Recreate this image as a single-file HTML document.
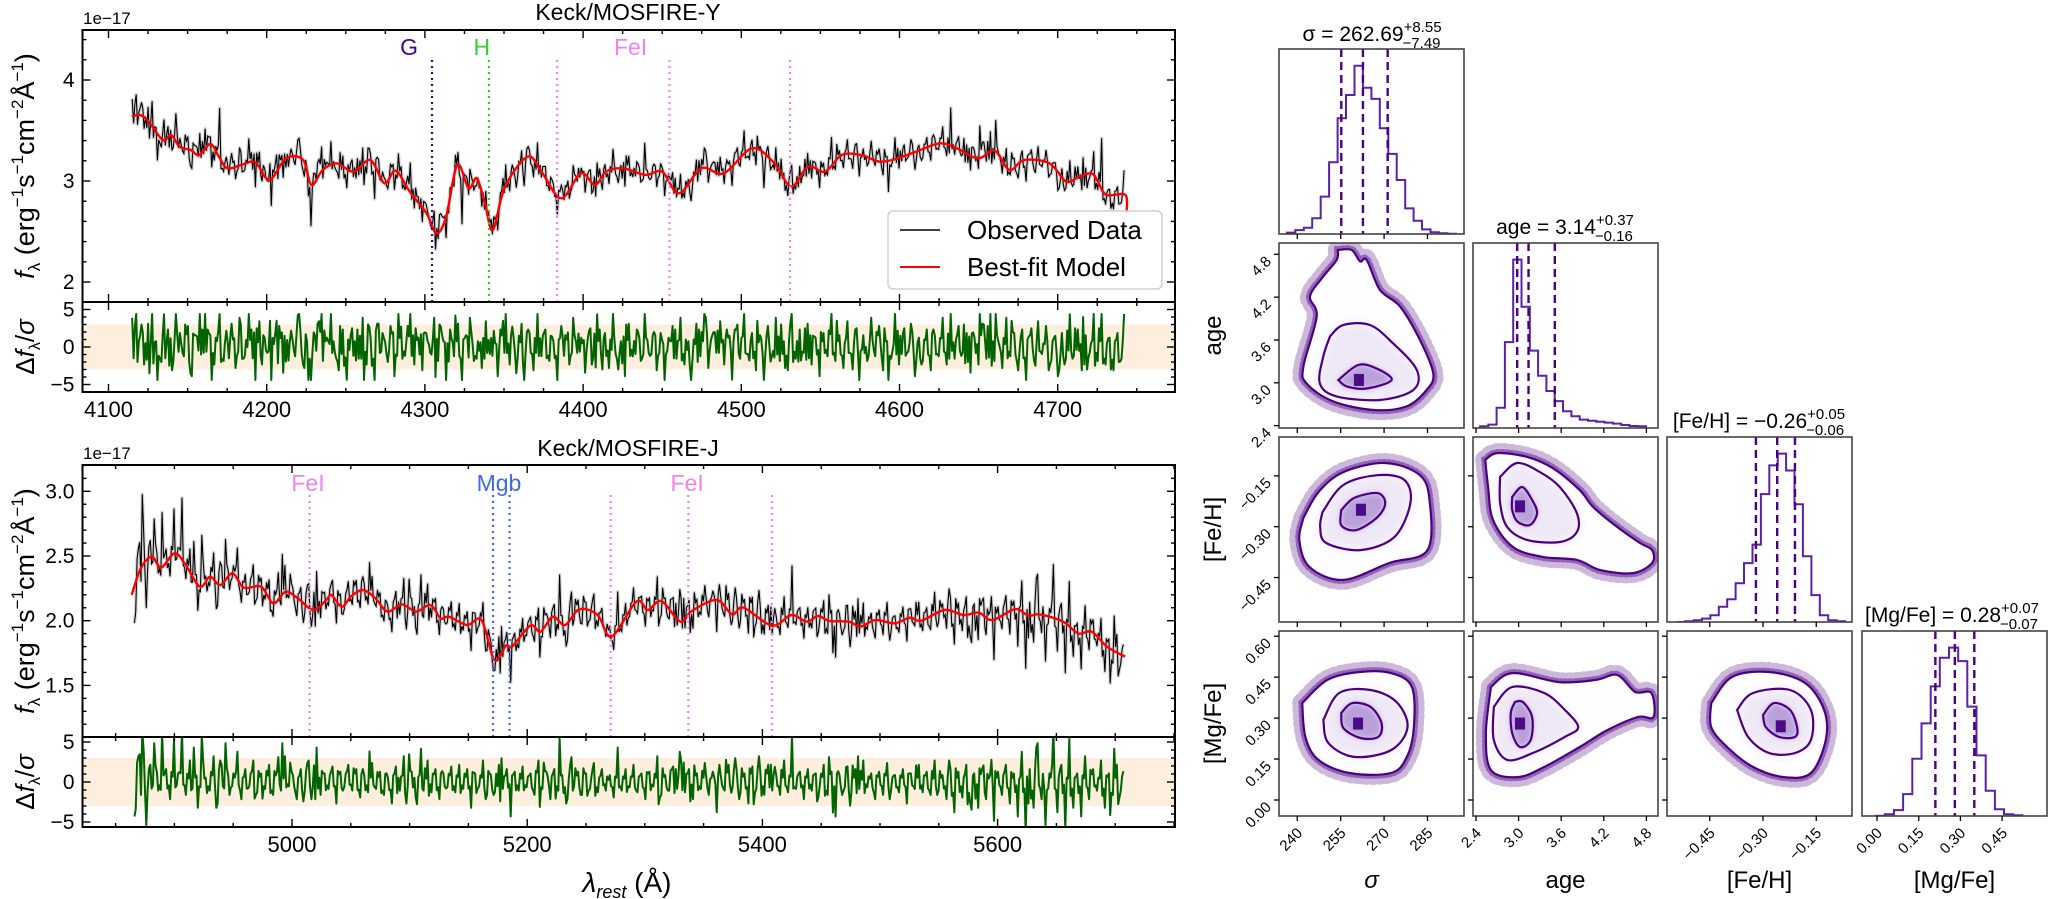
<!DOCTYPE html>
<html><head><meta charset="utf-8">
<style>
body{margin:0;background:#fff}
svg{display:block;font-family:"Liberation Sans","DejaVu Sans",sans-serif}
</style></head>
<body>
<svg id="fig" width="2050" height="899" viewBox="0 0 2050 899">
<defs>
<clipPath id="cTopS"><rect x="82.5" y="30" width="1092.5" height="272"/></clipPath>
<clipPath id="cTopR"><rect x="82.5" y="302" width="1092.5" height="90"/></clipPath>
<clipPath id="cBotS"><rect x="82.5" y="465" width="1092.5" height="272"/></clipPath>
<clipPath id="cBotR"><rect x="82.5" y="737" width="1092.5" height="90"/></clipPath>
<filter id="blur" x="-50%" y="-50%" width="200%" height="200%"><feGaussianBlur stdDeviation="5"/></filter>
<filter id="blur2" x="-50%" y="-50%" width="200%" height="200%"><feGaussianBlur stdDeviation="3"/></filter>
</defs>
</svg>
<script>
// ===== Spectrum data =====
const topModelWave=[4114.8,4120.1,4125.4,4134.3,4139.6,4145.0,4152.0,4157.3,4164.4,4169.8,4175.1,4183.9,4192.8,4201.7,4212.3,4223.0,4228.3,4235.4,4244.2,4254.9,4265.5,4274.4,4281.5,4290.4,4301.0,4307.4,4313.4,4320.5,4327.6,4332.9,4338.2,4342.9,4350.7,4364.9,4373.7,4386.1,4398.6,4407.4,4414.5,4425.2,4439.4,4450.0,4460.6,4474.8,4489.0,4506.8,4521.0,4531.6,4542.2,4552.9,4563.5,4576.0,4587.6,4600,4612,4625.6,4636.2,4649.5,4660.2,4669.5,4678.8,4694.8,4705.4,4713.4,4721.4,4725.4,4730.7,4742.7,4743.5];
const topModelFlux=[3.637,3.653,3.588,3.406,3.455,3.340,3.307,3.257,3.366,3.241,3.126,3.159,3.185,3.010,3.225,3.208,2.960,3.109,3.175,3.092,3.208,2.977,3.102,2.895,2.680,2.482,2.647,3.159,2.928,3.027,2.763,2.515,2.944,3.241,3.092,2.829,3.076,2.960,3.092,3.126,3.060,3.092,2.878,3.126,3.076,3.324,3.175,2.944,3.142,3.092,3.257,3.257,3.191,3.23,3.30,3.373,3.324,3.224,3.300,3.109,3.208,3.175,2.994,3.043,3.076,2.994,2.862,2.862,2.68];
const topObsRange=[4115,4742];
const topDev=[25,30,10,-15,20,35,5,-10,28,15,-20,40,12,-8,18,-25,10,30,-5,15,
-30,8,70,-12,5,20,-18,25,-10,0,15,-35,22,10,-5,-40,12,18,-22,6,
14,-8,30,-15,5,-60,10,22,-12,8,35,-5,-20,15,-28,10,5,-10,25,-15,
8,-45,20,12,-6,18,-25,30,-10,5,42,-15,8,-20,12,-5,25,-12,10,-30,
15,-8,20,-70,10,25,-12,5,-18,22,-6,14,-25,10,30,-15,8,-10,20,-5,
12,-20,35,-8,15,-12,5,-30,18,10,-15,25,-5,8,-22,14,-10,28,-6,12,
-18,30,-10,5,-25,20,-8,15,-12,45,-5,10,-20,12,-30,8,18,-10,25,-15,
5,-12,20,-8,30,-18,10,-5,22,-15,8,-28,15,-10,35,-6,12,-20,10,-45,
18,-8,25,-12,5,-20,30,-10,15,-5,20,-15,8,-25,12,-8,40,-12,10,-18,
22,-6,15,-30,10,-12,25,-8,18,-20,5,-10,30,-15,12,-5,20,-25,8,-12,
15,-20,10,-8,25,-15,55,-10,18,-5,12,-22,8,-15,20,-10,30,-12,5,-18,
25,-8,12,-20,15,-30,10,-12,22,-6,18,-15,8,-25,12,-10,28,-8,15,-20,
10,-5,35,-12,70,-15,8,-20,12,-10];
const topErr=0.045;
const botModelWave=[4863.7,4871.4,4880.8,4888.7,4900.2,4909.5,4921.7,4930.3,4939.0,4949.4,4959.1,4973.7,4984.1,4994.5,5004.9,5018.1,5029.2,5033.4,5042.4,5050.0,5060.4,5070.9,5081.3,5093.4,5105.5,5117.7,5126.4,5133.3,5148.9,5161.1,5172.2,5181.9,5187.1,5202.7,5211.4,5221.8,5232.2,5244.3,5259.9,5271.7,5292.8,5302.6,5314.0,5330.2,5340.0,5361.1,5374.2,5383.9,5408.3,5424.6,5437.6,5447.4,5457.1,5473.4,5483.2,5496.2,5512.4,5525.4,5535.2,5554.8,5571.0,5584.0,5595.5,5615.0,5626.3,5636.1,5655.6,5668.6,5680.0,5693.0,5708.4];
const botModelFlux=[2.199,2.405,2.495,2.410,2.521,2.431,2.263,2.340,2.276,2.366,2.255,2.263,2.134,2.224,2.173,2.083,2.160,2.199,2.108,2.186,2.237,2.173,2.070,2.127,2.070,2.121,2.018,2.031,1.967,2.005,1.696,1.807,1.799,1.962,1.915,2.031,1.967,2.088,2.044,1.877,2.147,2.083,2.152,1.993,2.075,2.160,2.049,2.101,1.962,2.044,1.993,2.036,1.998,1.993,1.954,2.005,1.980,2.023,2.000,2.083,2.044,2.062,2.005,2.090,2.039,2.049,1.993,1.902,1.915,1.799,1.722];
const botObsRange=[4866,5707];
const botDev=[-40,30,80,-50,20,45,-10,60,15,-20,50,10,70,-15,25,40,-30,55,5,-10,
30,-25,20,45,-15,10,35,-20,15,-5,25,-12,10,-8,20,-15,12,-10,30,-5,
8,-20,15,-10,25,-6,40,-15,10,-8,18,-25,12,-5,20,-10,15,-18,8,-12,
22,-8,12,-15,5,-25,18,-10,30,-5,12,-18,8,-10,25,-12,15,-20,10,-6,
18,-12,20,-8,15,-30,10,-5,25,-15,8,-12,20,-8,15,-40,12,-10,18,-6,
10,-15,25,-8,12,-20,15,-10,8,-25,20,-5,12,-15,10,-8,22,-12,15,-10,
8,-18,40,-10,15,-6,20,-12,10,-20,12,-5,30,-15,8,-10,18,-8,25,-12,
15,-20,10,-8,22,-15,12,-35,8,-10,20,-6,15,-12,10,-25,18,-8,12,-15,
20,-10,8,-15,25,-12,55,-8,12,-20,15,-10,10,-5,20,-15,12,-40,8,-10,
18,-12,15,-8,25,-6,10,-20,12,-15,22,-10,8,-12,15,-25,10,-8,20,-12,
12,-15,25,-10,8,-20,15,-35,12,-18,20,-25,10,-30,15,-20,8,-45,12,-15,
20,-25,10,-40,35,-60,15,-30,45,-20,-50,10,60,-35,20,-55,50,-30,10,-40,
30,-20,15,-10,25,-30,10,-15,20,-10];
const botErr=0.065;
const topLineWaves=[4304.5,4340.5,4383.6,4454.6,4530.8];
const botLineWaves=[5015,5171,5185,5271,5337,5408];
const topLabelText=['G','H','FeI'];
const topLabelWaves=[4290,4336,4430];
const botLabelText=['FeI','Mgb','FeI'];
const botLabelWaves=[5013.6,5176,5336];

// ===== Corner data =====
const sigHistStart=236.4, sigHistWidth=2.92;
const sigHistCounts=[0.008,0.023,0.037,0.092,0.219,0.42,0.678,0.814,0.986,0.857,0.791,0.619,0.469,0.316,0.150,0.078,0.027,0.010,0.004,0.002];
const ageHistStart=2.456, ageHistWidth=0.117;
const ageHistCounts=[0.01,0.02,0.12,0.51,1.0,0.72,0.46,0.31,0.22,0.16,0.10,0.07,0.05,0.043,0.037,0.032,0.026,0.018,0.012,0.01];
const fehHistStart=-0.543, fehHistWidth=0.0237;
const fehHistCounts=[0,0.004,0.01,0.02,0.04,0.09,0.135,0.23,0.35,0.46,0.76,0.93,1.0,0.90,0.70,0.39,0.16,0.04,0.01,0.004];
const mgHistStart=-0.005, mgHistWidth=0.033;
const mgHistCounts=[0.002,0.01,0.035,0.13,0.34,0.55,0.77,0.94,1.0,0.92,0.65,0.36,0.15,0.04,0.01,0.004];
const sigQ=[255.2,262.69,271.24];
const ageQ=[2.98,3.14,3.51];
const fehQ=[-0.32,-0.26,-0.21];
const mgQ=[0.21,0.28,0.35];
const sigTicks=[240,255,270,285];
const ageTicks=[2.4,3.0,3.6,4.2,4.8];
const fehTicks=[-0.45,-0.30,-0.15];
const mgXTicks=[0.00,0.15,0.30,0.45];
const mgYTicks=[0.00,0.15,0.30,0.45,0.60];
const ageSigOuter=[[254.0,4.86],[258.8,4.86],[261.7,4.70],[264.0,4.72],[268.6,4.30],[275.5,4.07],[282.4,3.60],[287.0,3.13],[284.7,2.90],[277.8,2.67],[266.3,2.62],[252.4,2.74],[243.2,2.99],[242.1,3.23],[246.7,3.93],[244.4,4.21],[249.0,4.49],[253.6,4.72]];
const ageSigMid=[[251.3,3.65],[255.9,3.81],[265.1,3.81],[273.2,3.55],[281.3,3.18],[280.1,2.90],[268.6,2.76],[253.6,2.81],[247.8,2.99],[249.0,3.37]];
const ageSigInner=[[254.2,3.04],[261.1,3.25],[267.4,3.20],[272.6,3.04],[264.0,2.92],[257.1,2.95]];
const fehSigOuter=[[242.1,-0.274],[247.3,-0.198],[255.9,-0.139],[270.4,-0.112],[282.2,-0.147],[285.7,-0.221],[285.0,-0.369],[271.8,-0.407],[255.9,-0.457],[244.2,-0.419],[240.7,-0.339]];
const fehSigMid=[[248.7,-0.257],[255.9,-0.177],[267.7,-0.148],[277.0,-0.162],[279.1,-0.230],[273.6,-0.330],[261.8,-0.369],[250.0,-0.348],[247.9,-0.301]];
const fehSigInner=[[255.2,-0.251],[259.7,-0.215],[267.7,-0.201],[270.4,-0.230],[267.7,-0.272],[260.4,-0.310],[255.2,-0.296]];
const fehAgeOuter=[[2.53,-0.103],[2.70,-0.083],[3.12,-0.094],[3.48,-0.127],[3.86,-0.192],[4.05,-0.242],[4.39,-0.301],[4.71,-0.348],[4.88,-0.369],[4.88,-0.407],[4.61,-0.437],[4.15,-0.428],[3.82,-0.398],[3.34,-0.389],[2.92,-0.360],[2.64,-0.280],[2.57,-0.183]];
const fehAgeMid=[[2.74,-0.153],[2.98,-0.112],[3.30,-0.139],[3.58,-0.183],[3.82,-0.260],[3.82,-0.316],[3.58,-0.345],[3.12,-0.339],[2.84,-0.301],[2.74,-0.230]];
const fehAgeInner=[[2.91,-0.212],[3.05,-0.183],[3.19,-0.221],[3.26,-0.260],[3.16,-0.295],[2.99,-0.286],[2.91,-0.251]];
const mgSigOuter=[[241.7,0.355],[250.4,0.44],[261.6,0.469],[272.4,0.465],[279.6,0.414],[280.3,0.267],[277.9,0.158],[272.4,0.099],[258.0,0.099],[247.3,0.147],[242.8,0.231]];
const mgSigMid=[[249.0,0.293],[254.5,0.392],[265.3,0.403],[274.3,0.359],[278.1,0.267],[272.5,0.183],[259.7,0.158],[250.7,0.209]];
const mgSigInner=[[255.2,0.319],[259.0,0.355],[265.3,0.341],[269.1,0.282],[268.0,0.231],[261.8,0.227],[255.9,0.264]];
const mgAgeOuter=[[2.61,0.414],[2.91,0.465],[3.57,0.432],[4.09,0.44],[4.39,0.458],[4.64,0.396],[4.87,0.392],[4.90,0.304],[4.68,0.304],[4.25,0.256],[3.86,0.194],[3.36,0.121],[2.99,0.084],[2.61,0.110],[2.54,0.245]];
const mgAgeMid=[[2.65,0.341],[2.91,0.414],[3.36,0.392],[3.65,0.330],[3.84,0.267],[3.65,0.231],[3.20,0.172],[2.84,0.147],[2.65,0.220]];
const mgAgeInner=[[2.95,0.359],[3.06,0.359],[3.19,0.304],[3.17,0.220],[3.02,0.194],[2.91,0.245],[2.89,0.319]];
const mgFehOuter=[[-0.446,0.355],[-0.387,0.451],[-0.283,0.469],[-0.182,0.429],[-0.128,0.330],[-0.123,0.22],[-0.165,0.099],[-0.241,0.084],[-0.328,0.121],[-0.401,0.194],[-0.446,0.267]];
const mgFehMid=[[-0.373,0.330],[-0.328,0.392],[-0.224,0.403],[-0.165,0.330],[-0.165,0.220],[-0.210,0.172],[-0.283,0.172],[-0.342,0.231]];
const mgFehInner=[[-0.30,0.311],[-0.269,0.355],[-0.224,0.330],[-0.204,0.267],[-0.210,0.231],[-0.255,0.231],[-0.292,0.267]];

// ===== helpers =====
const NS='http://www.w3.org/2000/svg';
const svg=document.getElementById('fig');
function mk(tag,attrs,parent){const e=document.createElementNS(NS,tag);for(const k in attrs)e.setAttribute(k,attrs[k]);(parent||svg).appendChild(e);return e;}
function interp(ws,fs,w){if(w<=ws[0])return fs[0];for(let i=1;i<ws.length;i++){if(w<=ws[i]){const t=(w-ws[i-1])/(ws[i]-ws[i-1]);return fs[i-1]+t*(fs[i]-fs[i-1]);}}return fs[fs.length-1];}
function smoothPath(pts){let d='M'+pts[0][0].toFixed(1)+' '+pts[0][1].toFixed(1);for(let i=0;i<pts.length-1;i++){const p0=pts[Math.max(0,i-1)],p1=pts[i],p2=pts[i+1],p3=pts[Math.min(pts.length-1,i+2)];const c1=[p1[0]+(p2[0]-p0[0])/6,p1[1]+(p2[1]-p0[1])/6],c2=[p2[0]-(p3[0]-p1[0])/6,p2[1]-(p3[1]-p1[1])/6];d+=' C'+c1[0].toFixed(1)+' '+c1[1].toFixed(1)+' '+c2[0].toFixed(1)+' '+c2[1].toFixed(1)+' '+p2[0].toFixed(1)+' '+p2[1].toFixed(1);}return d;}
function rng(lo,hi,step){const a=[];for(let v=Math.ceil(lo/step-1e-9)*step;v<=hi+1e-9;v+=step)a.push(+v.toFixed(6));return a;}
function fine(dev){const n=dev.length,out=[];for(let i=0;i<n;i++){out.push(dev[i]*0.7);out.push(dev[(i*7+3)%n]*0.45);out.push(dev[(i*11+5)%n]*0.35);}return out;}

const X0=82.5,X1=1175;
function specPanel(o){
  const g=mk('g',{});
  
  
  const xs=o.xs, ys=o.ys, yr=o.yr;
  const band=mk('rect',{x:X0,y:yr(3),width:X1-X0,height:yr(-3)-yr(3),fill:'#fdeedd'},g);
  
  
  const dv=fine(o.dev);
  const n=dv.length, obs=[], res=[];
  for(let i=0;i<n;i++){const w=o.range[0]+i*(o.range[1]-o.range[0])/(n-1);const m=interp(o.mw,o.mf,w);obs.push([w,m+dv[i]/100]);let r=dv[i]/100/o.err;r=Math.max(-o.clamp,Math.min(o.clamp,r));res.push([w,r]);}
  const d=obs.map((p,i)=>(i?'L':'M')+xs(p[0]).toFixed(1)+' '+ys(p[1]).toFixed(1)).join(' ');
  const gs=mk('g',{'clip-path':'url(#'+o.clipS+')'},g);
  const err=mk('path',{d:d,fill:'none',stroke:'#d6d6d6','stroke-width':3.5,'stroke-linejoin':'round'},gs);
  
  
  const ob=mk('path',{d:d,fill:'none',stroke:'#000','stroke-width':1.1},gs);
  
  
  const mp=o.mw.map((w,i)=>[xs(w),ys(o.mf[i])]);
  const model=mk('path',{d:smoothPath(mp),fill:'none',stroke:'#ff0000','stroke-width':2.4},gs);
  
  
  o.lines.forEach((w,i)=>{const l=mk('line',{x1:xs(w),x2:xs(w),y1:o.lineTop,y2:o.ySplit,stroke:o.lineColors[i],'stroke-width':2.2,'stroke-dasharray':'2 4'},g);
    
    });
  o.labels.forEach((t,i)=>{const tx=mk('text',{x:xs(o.labelW[i]),y:o.labelY,'font-size':23,fill:o.labelColors[i],'text-anchor':'middle'},g);tx.textContent=t;
    
    });
  const gr=mk('g',{'clip-path':'url(#'+o.clipR+')'},g);
  const rd=res.map((p,i)=>(i?'L':'M')+xs(p[0]).toFixed(1)+' '+yr(p[1]).toFixed(1)).join(' ');
  const rl=mk('path',{d:rd,fill:'none',stroke:'#006400','stroke-width':2,'stroke-linejoin':'round'},gr);
  
  
  const tk=mk('g',{stroke:'#000','stroke-width':1.4},g);
  
  
  const boxes=[[o.yTop,o.ySplit],[o.ySplit,o.yBot]];
  const wl=o.xinv(X0), wr=o.xinv(X1);
  boxes.forEach(b=>{
    rng(wl,wr,o.xMinor).forEach(v=>{const major=Math.abs(v/o.xMajor-Math.round(v/o.xMajor))<1e-6;const L=major?8:4;const x=xs(v);
      mk('line',{x1:x,x2:x,y1:b[0],y2:b[0]+L},tk);mk('line',{x1:x,x2:x,y1:b[1],y2:b[1]-L},tk);});
  });
  const yl=o.yinv(o.ySplit), yh=o.yinv(o.yTop);
  rng(yl,yh,o.yMinor).forEach(v=>{const major=Math.abs(v/o.yMajor-Math.round(v/o.yMajor))<1e-6;const L=major?8:4;const y=ys(v);
    mk('line',{x1:X0,x2:X0+L,y1:y,y2:y},tk);mk('line',{x1:X1,x2:X1-L,y1:y,y2:y},tk);});
  rng(-6,6,1).forEach(v=>{const y=yr(v);if(y<o.ySplit+0.5||y>o.yBot-0.5)return;const L=(v%5===0)?8:4;
    mk('line',{x1:X0,x2:X0+L,y1:y,y2:y},tk);mk('line',{x1:X1,x2:X1-L,y1:y,y2:y},tk);});
  o.xLabels.forEach(v=>{const t=mk('text',{x:xs(v),y:o.yBot+25,'font-size':22,'text-anchor':'middle'},g);t.textContent=String(v);
    
    });
  o.yLabels.forEach(v=>{const t=mk('text',{x:X0-8,y:ys(v)+7,'font-size':21,'text-anchor':'end'},g);t.textContent=o.yFmt(v);
    
    });
  [5,0,-5].forEach(v=>{const t=mk('text',{x:X0-8,y:yr(v)+7,'font-size':21,'text-anchor':'end'},g);t.textContent=v<0?'\u22125':String(v);
    
    });
  const sp=mk('rect',{x:X0,y:o.yTop,width:X1-X0,height:o.ySplit-o.yTop,fill:'none',stroke:'#000','stroke-width':2},g);
  
  
  const sr=mk('rect',{x:X0,y:o.ySplit,width:X1-X0,height:o.yBot-o.ySplit,fill:'none',stroke:'#000','stroke-width':2},g);
  
  
  const ti=mk('text',{x:628,y:o.titleY,'font-size':23,'text-anchor':'middle'},g);ti.textContent=o.title;
  
  
  const ex=mk('text',{x:83,y:o.yTop-6,'font-size':17},g);ex.textContent='1e\u221217';
  
  
  const cy=(o.yTop+o.ySplit)/2;
  const yl1=mk('text',{x:0,y:0,'font-size':27,'text-anchor':'middle',transform:'translate(34,'+cy+') rotate(-90)'},g);
  yl1.innerHTML='<tspan font-style="italic">f</tspan><tspan font-size="17" dy="6">λ</tspan><tspan dy="-6"> (erg</tspan><tspan font-size="17" dy="-11">−1</tspan><tspan dy="11">s</tspan><tspan font-size="17" dy="-11">−1</tspan><tspan dy="11">cm</tspan><tspan font-size="17" dy="-11">−2</tspan><tspan dy="11">Å</tspan><tspan font-size="17" dy="-11">−1</tspan><tspan dy="11">)</tspan>';
  
  
  const yl2=mk('text',{x:0,y:0,'font-size':26,'text-anchor':'middle',transform:'translate(34,'+((o.ySplit+o.yBot)/2)+') rotate(-90)'},g);
  yl2.innerHTML='Δ<tspan font-style="italic">f</tspan><tspan font-size="16" dy="6">λ</tspan><tspan dy="-6">/</tspan><tspan font-style="italic">σ</tspan>';
  
  
}

const txs=v=>108.5+(v-4100)*1.582;
specPanel({name:'mosfire-y-panel',title:'Keck/MOSFIRE-Y',titleY:20,yTop:30,ySplit:302,yBot:392,
  xs:txs,xinv:x=>4100+(x-108.5)/1.582,ys:f=>80+(4-f)*101,yinv:y=>4-(y-80)/101,yr:r=>347-r*7.5,
  mw:topModelWave,mf:topModelFlux,dev:topDev,range:topObsRange,err:topErr,clamp:4.4,
  clipS:'cTopS',clipR:'cTopR',xMajor:100,xMinor:25,yMajor:1,yMinor:0.2,
  xLabels:[4100,4200,4300,4400,4500,4600,4700],yLabels:[2,3,4],yFmt:v=>String(v),
  lines:topLineWaves,lineColors:['#4b0082','#32cd32','#ee82ee','#ee82ee','#ee82ee'],lineTop:60,
  labels:topLabelText,labelW:topLabelWaves,labelColors:['#4b0082','#32cd32','#ee82ee'],labelY:55});
const bxs=v=>292+(v-5000)*1.176;
specPanel({name:'mosfire-j-panel',title:'Keck/MOSFIRE-J',titleY:456,yTop:465,ySplit:737,yBot:827,
  xs:bxs,xinv:x=>5000+(x-292)/1.176,ys:f=>620.7-(f-2)*129.4,yinv:y=>2-(y-620.7)/129.4,yr:r=>782-r*8,
  mw:botModelWave,mf:botModelFlux,dev:botDev,range:botObsRange,err:botErr,clamp:6.5,
  clipS:'cBotS',clipR:'cBotR',xMajor:200,xMinor:50,yMajor:0.5,yMinor:0.1,
  xLabels:[5000,5200,5400,5600],yLabels:[1.5,2.0,2.5,3.0],yFmt:v=>v.toFixed(1),
  lines:botLineWaves,lineColors:['#ee82ee','#4169e1','#4169e1','#ee82ee','#ee82ee','#ee82ee'],lineTop:495,
  labels:botLabelText,labelW:botLabelWaves,labelColors:['#ee82ee','#4169e1','#ee82ee'],labelY:491});

const xt=mk('text',{x:627,y:892,'font-size':28,'text-anchor':'middle'});
xt.innerHTML='<tspan font-style="italic">λ</tspan><tspan font-size="18" dy="6" font-style="italic">rest</tspan><tspan dy="-6"> (Å)</tspan>';



const lg=mk('g',{});


const lgb=mk('rect',{x:888,y:211,width:274,height:78,rx:5,fill:'#fff','fill-opacity':0.85,stroke:'#d0d0d0','stroke-width':1.5},lg);


const le1=mk('line',{x1:900,x2:940,y1:230,y2:230,stroke:'#000','stroke-width':1.5},lg);


const lt1=mk('text',{x:967,y:239,'font-size':26},lg);lt1.textContent='Observed Data';


const le2=mk('line',{x1:900,x2:940,y1:267,y2:267,stroke:'#ff0000','stroke-width':2},lg);


const lt2=mk('text',{x:967,y:276,'font-size':26},lg);lt2.textContent='Best-fit Model';



// ===== Corner plot =====
const colL=[1279,1473,1667,1862], rowT=[49,243,437,631], S=185;
const cxs=[v=>1297.3+(v-240)*2.893, v=>1476+(v-2.4)*71, v=>1763+(v+0.3)*355, v=>1877+v*278];
const cys=[null, v=>254.3+(4.8-v)*71.4, v=>526.7-(v+0.3)*339, v=>800-v*273];
const PUR='#4b0082', PL='#5b21a6';
const corner=mk('g',{});


let cid=0;
function panelClip(c,r){const id='pc'+(cid++);const cp=mk('clipPath',{id:id},svg.querySelector('defs'));mk('rect',{x:colL[c],y:rowT[r],width:S,height:S},cp);return 'url(#'+id+')';}
function frame(c,r){const f=mk('rect',{x:colL[c],y:rowT[r],width:S,height:S,fill:'none',stroke:'#444','stroke-width':1.6},corner);
  
  }
function hist(c,start,width,counts,q,name){
  const g=mk('g',{'clip-path':panelClip(c,c)},corner);
  
  
  const mx=Math.max(...counts), bot=rowT[c]+S, xs=cxs[c];
  let d='M'+xs(start).toFixed(1)+' '+bot;
  counts.forEach((v,i)=>{const y=bot-v/mx*0.91*S;d+=' V'+y.toFixed(1)+' H'+xs(start+(i+1)*width).toFixed(1);});
  d+=' V'+bot;
  const p=mk('path',{d:d,fill:'none',stroke:PL,'stroke-width':2},g);
  
  
  q.forEach(v=>{const l=mk('line',{x1:xs(v),x2:xs(v),y1:rowT[c],y2:bot,stroke:PUR,'stroke-width':2.4,'stroke-dasharray':'8 5'},g);
    
    });
  frame(c,c);
}
function scatter2d(c,r,outer,mid,inner,med,name){
  const g=mk('g',{'clip-path':panelClip(c,r)},corner);
  
  
  const xs=cxs[c], ys=cys[r];
  const P=a=>a.map(p=>[xs(p[0]),ys(p[1])]);
  const closed=a=>{const pts=P(a);return smoothPath(pts.concat([pts[0]]))+' Z';};
  const o=closed(outer),m=closed(mid),n=closed(inner);
  const sc=mk('path',{d:o,fill:'none',stroke:PUR,'stroke-opacity':0.28,'stroke-width':20,'stroke-dasharray':'1 6','stroke-linecap':'round'},g);
  
  
  const sc2=mk('path',{d:o,fill:'none',stroke:PUR,'stroke-opacity':0.45,'stroke-width':8,'stroke-dasharray':'1.2 3.5','stroke-linecap':'round'},g);
  
  
  const of=mk('path',{d:o,fill:'#fefdff'},g);
  
  
  const mf=mk('path',{d:m,fill:'#efe8f6',filter:'url(#blur)'},g);
  
  
  const nf=mk('path',{d:n,fill:'#b9a0da',filter:'url(#blur2)'},g);
  
  
  const pk=mk('rect',{x:xs(med[0])-5,y:ys(med[1])-6,width:10,height:12,fill:'#4b0a86'},g);
  
  
  [o,m,n].forEach(d=>{const l=mk('path',{d:d,fill:'none',stroke:PUR,'stroke-width':2.2},g);
    
    });
  frame(c,r);
}
hist(0,sigHistStart,sigHistWidth,sigHistCounts,sigQ,'hist-sigma');
hist(1,ageHistStart,ageHistWidth,ageHistCounts,ageQ,'hist-age');
hist(2,fehHistStart,fehHistWidth,fehHistCounts,fehQ,'hist-feh');
hist(3,mgHistStart,mgHistWidth,mgHistCounts,mgQ,'hist-mgfe');
scatter2d(0,1,ageSigOuter,ageSigMid,ageSigInner,[261.3,3.04],'scatter-age-sigma');
scatter2d(0,2,fehSigOuter,fehSigMid,fehSigInner,[262,-0.25],'scatter-feh-sigma');
scatter2d(1,2,fehAgeOuter,fehAgeMid,fehAgeInner,[3.02,-0.24],'scatter-feh-age');
scatter2d(0,3,mgSigOuter,mgSigMid,mgSigInner,[261,0.28],'scatter-mgfe-sigma');
scatter2d(1,3,mgAgeOuter,mgAgeMid,mgAgeInner,[3.02,0.28],'scatter-mgfe-age');
scatter2d(2,3,mgFehOuter,mgFehMid,mgFehInner,[-0.25,0.27],'scatter-mgfe-feh');

const xTickSets=[sigTicks,ageTicks,fehTicks,mgXTicks];
const xFmt=[v=>String(v),v=>v.toFixed(1),v=>(v<0?'\u2212':'')+Math.abs(v).toFixed(2),v=>v.toFixed(2)];
const ctk=mk('g',{stroke:'#000','stroke-width':1.3},corner);


for(let c=0;c<4;c++){for(let r=c;r<4;r++){const b=rowT[r]+S;xTickSets[c].forEach(v=>{const x=cxs[c](v);mk('line',{x1:x,x2:x,y1:b,y2:b+5},ctk);});}}
const yTickSets=[null,ageTicks,fehTicks,mgYTicks];
for(let r=1;r<4;r++){for(let c=0;c<r;c++){yTickSets[r].forEach(v=>{const y=cys[r](v);mk('line',{x1:colL[c]-5,x2:colL[c],y1:y,y2:y},ctk);});}}
for(let c=0;c<4;c++){xTickSets[c].forEach(v=>{const x=cxs[c](v),y=rowT[3]+S+12;
  const t=mk('text',{x:0,y:0,'font-size':15,'text-anchor':'end',transform:'translate('+(x+6)+','+(y+6)+') rotate(-45)'},corner);t.textContent=xFmt[c](v);
  
  });}
for(let r=1;r<4;r++){yTickSets[r].forEach(v=>{const y=cys[r](v);
  const t=mk('text',{x:0,y:0,'font-size':15,'text-anchor':'end',transform:'translate('+(colL[0]-7)+','+(y+8)+') rotate(-45)'},corner);t.textContent=xFmt[r](v);
  
  });}
const cxLabels=['σ','age','[Fe/H]','[Mg/Fe]'];
cxLabels.forEach((s,i)=>{const t=mk('text',{x:colL[i]+S/2,y:888,'font-size':24,'text-anchor':'middle'},corner);t.textContent=s;
  if(i===0)t.setAttribute('font-style','italic');
  
  });
[1,2,3].forEach(r=>{const t=mk('text',{x:0,y:0,'font-size':24,'text-anchor':'middle',transform:'translate(1221,'+(rowT[r]+S/2)+') rotate(-90)'},corner);t.textContent=cxLabels[r];
  
  });
const cTitles=[['σ = 262.69','+8.55','−7.49',1372,41],['age = 3.14','+0.37','−0.16',1565,234],['[Fe/H] = −0.26','+0.05','−0.06',1759,428],['[Mg/Fe] = 0.28','+0.07','−0.07',1952,622]];
cTitles.forEach((a,i)=>{const t=mk('text',{x:a[3],y:a[4],'font-size':21,'text-anchor':'middle'},corner);
  t.innerHTML=a[0]+'<tspan font-size="15" dy="-9">'+a[1]+'</tspan><tspan font-size="15" dx="-39" dy="16">'+a[2]+'</tspan>';
  
  });
</script>
</body></html>
